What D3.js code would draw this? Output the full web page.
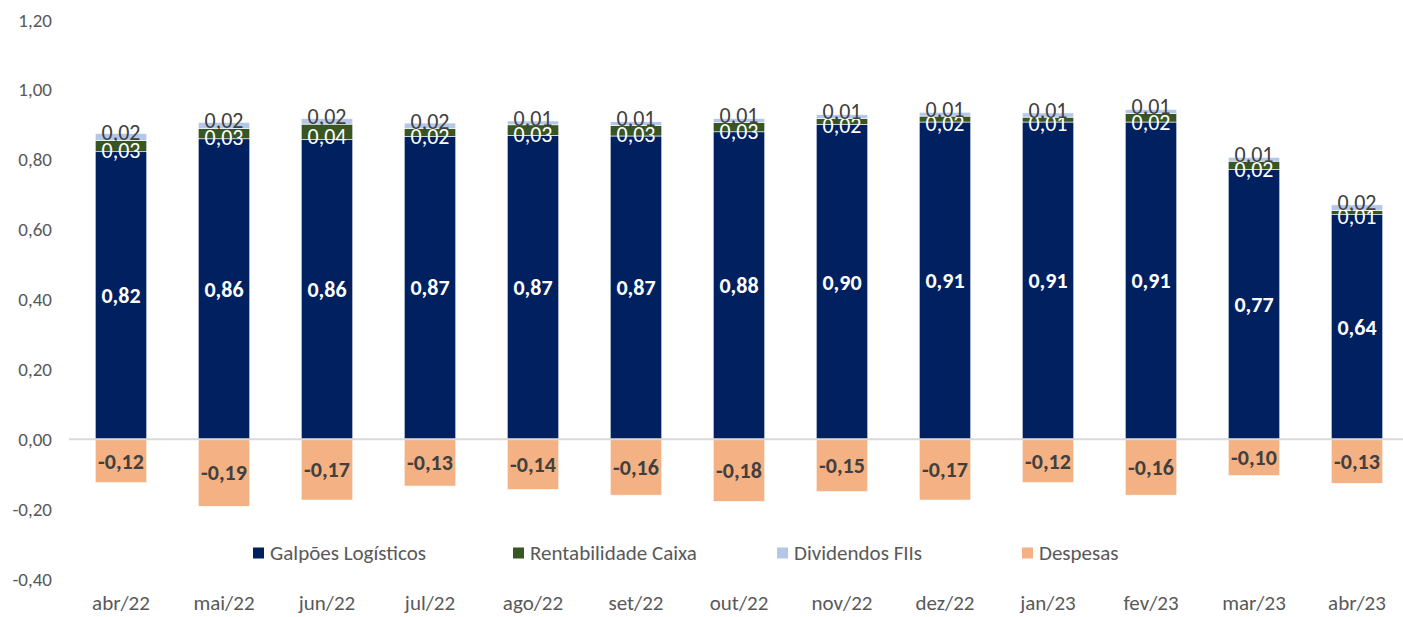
<!DOCTYPE html>
<html>
<head>
<meta charset="utf-8">
<script src="https://cdn.jsdelivr.net/npm/d3@7"></script>
<style>
  body { margin: 0; background: #fff; }
  svg text { font-family: Carlito, Lato, "Open Sans", sans-serif; }
</style>
</head>
<body>
<script>
// Chart size
var svgWidth = 1403;
var svgHeight = 617;

// Data
var months = ["abr/22", "mai/22", "jun/22", "jul/22", "ago/22", "set/22", "out/22",
  "nov/22", "dez/22", "jan/23", "fev/23", "mar/23", "abr/23"];
var galpoes = [0.823, 0.860, 0.858, 0.867, 0.870, 0.868, 0.880, 0.901, 0.908, 0.908, 0.908, 0.772, 0.643];
var caixa = [0.032, 0.029, 0.044, 0.022, 0.030, 0.030, 0.027, 0.017, 0.017, 0.014, 0.024, 0.024, 0.012];
var fiis = [0.020, 0.018, 0.016, 0.016, 0.011, 0.011, 0.011, 0.011, 0.011, 0.012, 0.012, 0.011, 0.016];
var despesas = [-0.124, -0.192, -0.174, -0.134, -0.144, -0.160, -0.178, -0.150, -0.174, -0.124, -0.160, -0.104, -0.126];
var yTicks = [-0.4, -0.2, 0, 0.2, 0.4, 0.6, 0.8, 1.0, 1.2];

var seriesNames = ["Galpões Logísticos", "Rentabilidade Caixa", "Dividendos FIIs", "Despesas"];
var seriesColors = ["#002060", "#375623", "#b4c7e7", "#f4b183"];

var locale = d3.formatLocale({ decimal: ",", thousands: ".", grouping: [3], currency: ["R$", ""], minus: "-" });
var fmt = locale.format(".2f");

var svg = d3.select("body")
  .append("svg")
  .attr("width", svgWidth)
  .attr("height", svgHeight);

var xScale = d3.scaleBand()
  .domain(months)
  .range([69.5, 1408.5])
  .paddingInner(0.5)
  .paddingOuter(0.25);

var yScale = d3.scaleLinear()
  .domain([-0.4, 1.2])
  .range([579, 20]);

// y axis labels (no line)
var yAxis = d3.axisLeft(yScale)
  .tickValues(yTicks)
  .tickFormat(fmt)
  .tickSize(0)
  .tickPadding(0);

var yAxisG = svg.append("g")
  .attr("transform", "translate(52,0)")
  .call(yAxis);
yAxisG.select(".domain").remove();
yAxisG.selectAll("text")
  .attr("fill", "#595959")
  .style("font-size", "19px");

// x axis labels
var xAxis = d3.axisBottom(xScale).tickSize(0).tickPadding(0);
var xAxisG = svg.append("g")
  .attr("transform", "translate(0,595)")
  .call(xAxis);
xAxisG.select(".domain").remove();
xAxisG.selectAll("text")
  .attr("fill", "#595959")
  .style("font-size", "21px");

// stacked segments
var rows = months.map(function(m, i) {
  return { month: m, galpoes: galpoes[i], caixa: caixa[i], fiis: fiis[i] };
});
var stack = d3.stack().keys(["galpoes", "caixa", "fiis"]);
var layers = stack(rows);

var layerG = svg.selectAll(".layer")
  .data(layers)
  .enter()
  .append("g")
  .attr("fill", (d, i) => seriesColors[i]);

layerG.selectAll("rect")
  .data(d => d)
  .enter()
  .append("rect")
  .attr("x", d => xScale(d.data.month))
  .attr("y", d => yScale(d[1]))
  .attr("width", xScale.bandwidth())
  .attr("height", d => yScale(d[0]) - yScale(d[1]))
  .attr("stroke", "#fff")
  .attr("stroke-width", 0.6);

// negative bars
svg.selectAll(".desp")
  .data(despesas)
  .enter()
  .append("rect")
  .attr("x", (d, i) => xScale(months[i]))
  .attr("y", yScale(0))
  .attr("width", xScale.bandwidth())
  .attr("height", d => yScale(d) - yScale(0))
  .attr("fill", seriesColors[3])
  .attr("stroke", "#fff")
  .attr("stroke-width", 0.6);

// zero line
svg.append("line")
  .attr("x1", 69)
  .attr("x2", 1403)
  .attr("y1", yScale(0))
  .attr("y2", yScale(0))
  .attr("stroke", "#d9d9d9")
  .attr("stroke-width", 2);

// labels
var cx = i => xScale(months[i]) + xScale.bandwidth() / 2;

svg.selectAll(".lblG")
  .data(galpoes)
  .enter()
  .append("text")
  .attr("x", (d, i) => cx(i))
  .attr("y", d => yScale(d / 2))
  .attr("dy", "0.35em")
  .attr("text-anchor", "middle")
  .attr("fill", "#fff")
  .style("font-size", "22px")
  .style("font-weight", "bold")
  .text(fmt);

svg.selectAll(".lblC")
  .data(caixa)
  .enter()
  .append("text")
  .attr("x", (d, i) => cx(i))
  .attr("y", (d, i) => yScale(galpoes[i] + d / 2) + 4)
  .attr("dy", "0.35em")
  .attr("text-anchor", "middle")
  .attr("fill", "#fff")
  .style("font-size", "22px")
  .text(fmt);

svg.selectAll(".lblF")
  .data(fiis)
  .enter()
  .append("text")
  .attr("x", (d, i) => cx(i))
  .attr("y", (d, i) => yScale(galpoes[i] + caixa[i] + d / 2) - 5)
  .attr("dy", "0.35em")
  .attr("text-anchor", "middle")
  .attr("fill", "#404040")
  .style("font-size", "22px")
  .text(fmt);

svg.selectAll(".lblD")
  .data(despesas)
  .enter()
  .append("text")
  .attr("x", (d, i) => cx(i))
  .attr("y", d => yScale(d / 2))
  .attr("dy", "0.35em")
  .attr("text-anchor", "middle")
  .attr("fill", "#404040")
  .style("font-size", "22px")
  .style("font-weight", "bold")
  .text(fmt);

// legend
var legendX = [253, 513, 777, 1022];
var legend = svg.selectAll(".legend")
  .data(seriesNames)
  .enter()
  .append("g")
  .attr("transform", (d, i) => `translate(${legendX[i]},553)`);

legend.append("rect")
  .attr("x", 0)
  .attr("y", -5.5)
  .attr("width", 11)
  .attr("height", 11)
  .attr("fill", (d, i) => seriesColors[i]);

legend.append("text")
  .attr("x", 17)
  .attr("y", 0)
  .attr("dy", "0.35em")
  .attr("fill", "#595959")
  .style("font-size", "21px")
  .text(d => d);
</script>
</body>
</html>
